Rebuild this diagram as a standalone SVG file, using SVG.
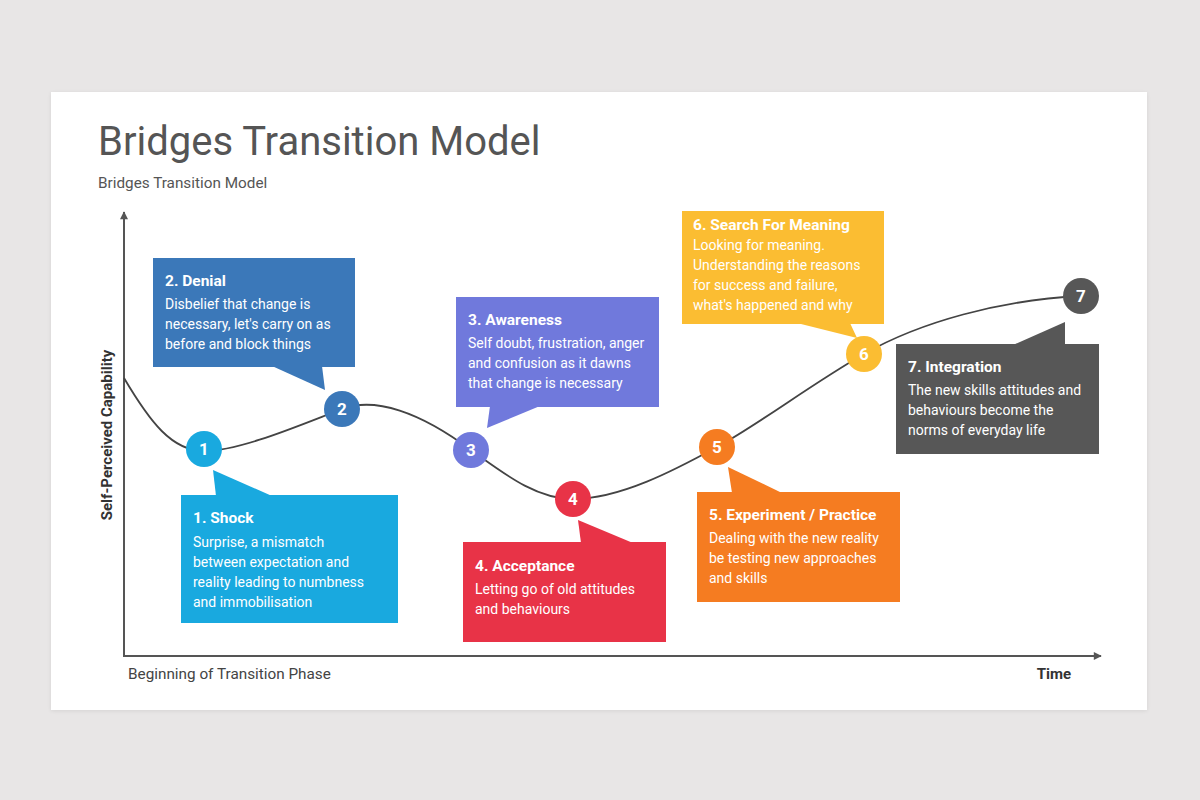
<svg xmlns="http://www.w3.org/2000/svg" width="1200" height="800" viewBox="0 0 1200 800">
<defs>
<style>
.t{font-family:Roboto,"Liberation Sans",sans-serif;fill:#fff}
.h{font-size:15.5px;font-weight:bold}
.b{font-size:14px}
.n{font-size:17px;font-weight:bold;text-anchor:middle}
.ax{stroke:#555;stroke-width:2;fill:none}
</style>
<marker id="arr" viewBox="0 0 10 10" refX="9" refY="5" markerWidth="9" markerHeight="8" orient="auto" markerUnits="userSpaceOnUse">
<path d="M0,0 L10,5 L0,10 z" fill="#555"/>
</marker>
<filter id="sh" x="-5%" y="-5%" width="110%" height="110%">
<feGaussianBlur stdDeviation="2"/>
</filter>
</defs>
<rect width="1200" height="800" fill="#e8e6e6"/>
<rect x="51" y="93" width="1096" height="618" fill="#000" opacity="0.08" filter="url(#sh)"/>
<rect x="51" y="92" width="1096" height="618" fill="#fff"/>
<text x="98" y="155" font-family="Roboto,'Liberation Sans',sans-serif" font-size="40" fill="#555">Bridges Transition Model</text>
<text x="98" y="188" font-family="Roboto,'Liberation Sans',sans-serif" font-size="15.3" fill="#555">Bridges Transition Model</text>

<g id="axes">
<line class="ax" x1="124" y1="657" x2="124" y2="212" marker-end="url(#arr)"/>
<line class="ax" x1="123" y1="656" x2="1101" y2="656" marker-end="url(#arr)"/>
<text transform="translate(112,435) rotate(-90)" text-anchor="middle" font-family="Roboto,'Liberation Sans',sans-serif" font-size="15" font-weight="bold" fill="#333">Self-Perceived Capability</text>
<text x="128" y="679" font-family="Roboto,'Liberation Sans',sans-serif" font-size="15.3" fill="#444">Beginning of Transition Phase</text>
<text x="1071" y="679" text-anchor="end" font-family="Roboto,'Liberation Sans',sans-serif" font-size="15" font-weight="bold" fill="#333">Time</text>
</g>

<g id="connectors">
<path d="M124,378 C150,422 172,451 204,451 C240,451 300,425 342,409 C375,396.5 420,412 471,450 C502,472 535,499 573,499 C620,499 675,470 717,447 C760,423.5 810,385 864,354 C920,322 1000,300 1081,296" fill="none" stroke="#444" stroke-width="1.8"/>
</g>

<g id="node1">
<polygon points="213,470 216,496 272,496" fill="#19a9df"/>
<rect x="181" y="495" width="217" height="128" fill="#19a9df"/>
<circle cx="204" cy="449" r="18" fill="#19a9df"/>
<text class="t n" x="204" y="455">1</text>
<text class="t h" x="193" y="523">1. Shock</text>
<text class="t b" x="193" y="547">Surprise, a mismatch</text>
<text class="t b" x="193" y="567">between expectation and</text>
<text class="t b" x="193" y="587">reality leading to numbness</text>
<text class="t b" x="193" y="607">and immobilisation</text>
</g>

<g id="node2">
<polygon points="272,366 322,366 325,390" fill="#3b78b9"/>
<rect x="153" y="258" width="202" height="109" fill="#3b78b9"/>
<circle cx="342" cy="409" r="18" fill="#3b78b9"/>
<text class="t n" x="342" y="415">2</text>
<text class="t h" x="165" y="286">2. Denial</text>
<text class="t b" x="165" y="309">Disbelief that change is</text>
<text class="t b" x="165" y="329">necessary, let's carry on as</text>
<text class="t b" x="165" y="349">before and block things</text>
</g>

<g id="node3">
<polygon points="490,406 540,406 487,428" fill="#7079dc"/>
<rect x="456" y="297" width="203" height="110" fill="#7079dc"/>
<circle cx="471" cy="450" r="18" fill="#7079dc"/>
<text class="t n" x="471" y="456">3</text>
<text class="t h" x="468" y="325">3. Awareness</text>
<text class="t b" x="468" y="348">Self doubt, frustration, anger</text>
<text class="t b" x="468" y="368">and confusion as it dawns</text>
<text class="t b" x="468" y="388">that change is necessary</text>
</g>

<g id="node4">
<polygon points="578,520 581,543 633,543" fill="#e83347"/>
<rect x="463" y="542" width="203" height="100" fill="#e83347"/>
<circle cx="573" cy="499" r="18" fill="#e83347"/>
<text class="t n" x="573" y="505">4</text>
<text class="t h" x="475" y="571">4. Acceptance</text>
<text class="t b" x="475" y="594">Letting go of old attitudes</text>
<text class="t b" x="475" y="614">and behaviours</text>
</g>

<g id="node5">
<polygon points="728,467 732,493 782,493" fill="#f57c21"/>
<rect x="697" y="492" width="203" height="110" fill="#f57c21"/>
<circle cx="717" cy="447" r="18" fill="#f57c21"/>
<text class="t n" x="717" y="453">5</text>
<text class="t h" x="709" y="520">5. Experiment / Practice</text>
<text class="t b" x="709" y="543">Dealing with the new reality</text>
<text class="t b" x="709" y="563">be testing new approaches</text>
<text class="t b" x="709" y="583">and skills</text>
</g>

<g id="node6">
<polygon points="797,323 850,323 857,338" fill="#fbbd32"/>
<rect x="682" y="211" width="202" height="113" fill="#fbbd32"/>
<circle cx="864" cy="354" r="18" fill="#fbbd32"/>
<text class="t n" x="864" y="360">6</text>
<text class="t h" x="693" y="230">6. Search For Meaning</text>
<text class="t b" x="693" y="250">Looking for meaning.</text>
<text class="t b" x="693" y="270">Understanding the reasons</text>
<text class="t b" x="693" y="290">for success and failure,</text>
<text class="t b" x="693" y="310">what's happened and why</text>
</g>

<g id="node7">
<polygon points="1013,345 1065,345 1065,322" fill="#575757"/>
<rect x="896" y="344" width="203" height="110" fill="#575757"/>
<circle cx="1081" cy="296" r="18" fill="#575757"/>
<text class="t n" x="1081" y="302">7</text>
<text class="t h" x="908" y="372">7. Integration</text>
<text class="t b" x="908" y="395">The new skills attitudes and</text>
<text class="t b" x="908" y="415">behaviours become the</text>
<text class="t b" x="908" y="435">norms of everyday life</text>
</g>
</svg>
